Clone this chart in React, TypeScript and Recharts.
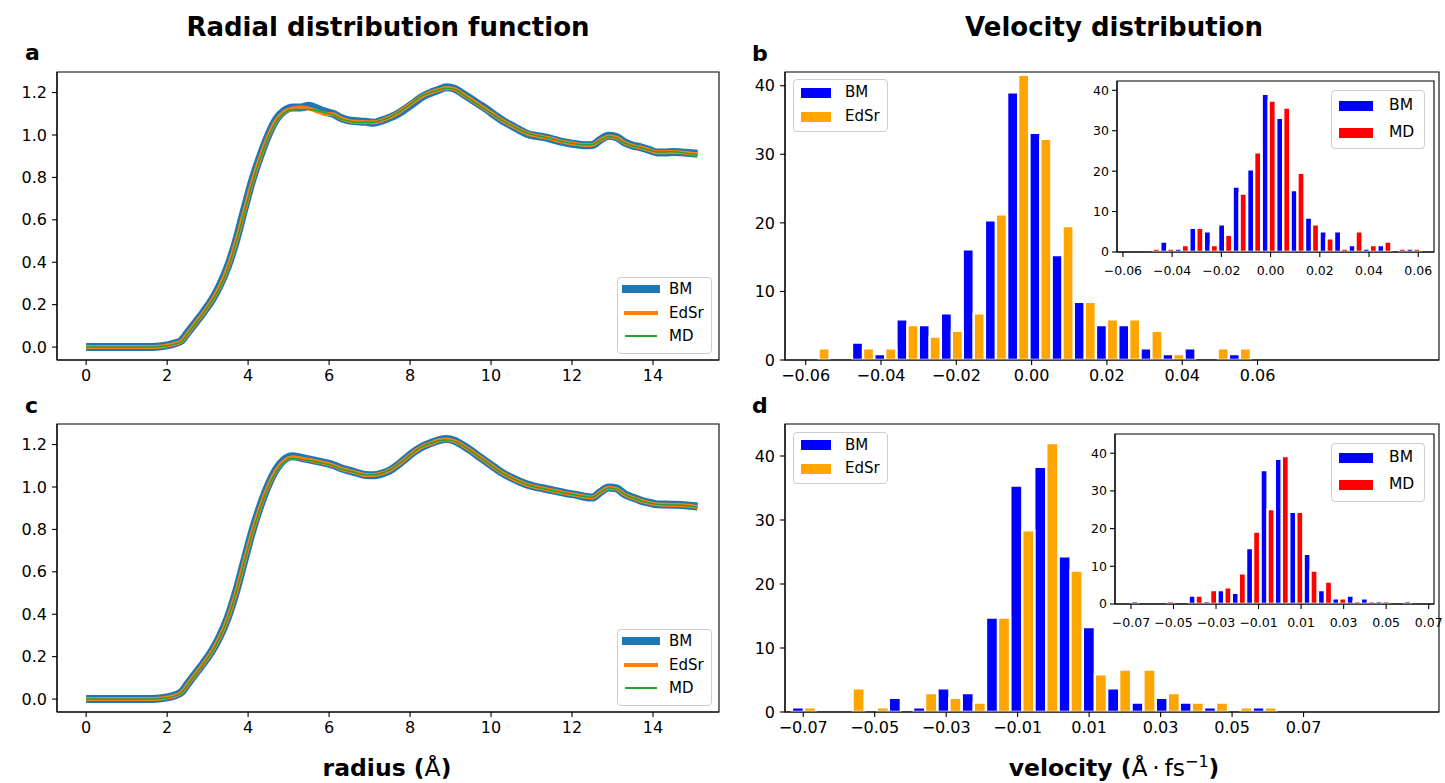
import React from 'react';
import { LineChart, Line, BarChart, Bar, XAxis, YAxis, ReferenceArea, Legend } from 'recharts';

const FONT = '"DejaVu Sans", Verdana, sans-serif';

// ---------- radial distribution function g(r) ----------
const radius = [
  0, 0.5, 1.0, 1.5, 1.8, 2.0, 2.2, 2.35, 2.5, 2.7, 2.9,
  3.1, 3.3, 3.5, 3.7, 3.9, 4.1, 4.3, 4.5, 4.7, 4.9,
  5.1, 5.3, 5.5, 5.7, 5.9, 6.1, 6.3, 6.5, 6.7, 6.9,
  7.1, 7.3, 7.5, 7.7, 7.9, 8.1, 8.3, 8.5, 8.7, 8.9,
  9.1, 9.3, 9.5, 9.7, 9.9, 10.1, 10.3, 10.5, 10.7, 10.9,
  11.1, 11.3, 11.5, 11.7, 11.9, 12.1, 12.3, 12.5, 12.7, 12.9,
  13.1, 13.3, 13.5, 13.7, 13.9, 14.1, 14.3, 14.5, 14.7, 14.9, 15.1,
];

const rdfBM_a = [
  0, 0, 0, 0, 0.003, 0.008, 0.018, 0.03, 0.066, 0.115, 0.165,
  0.22, 0.29, 0.38, 0.5, 0.645, 0.785, 0.9, 1.0, 1.075, 1.115,
  1.13, 1.13, 1.138, 1.125, 1.11, 1.1, 1.08, 1.068, 1.065, 1.062,
  1.058, 1.068, 1.082, 1.1, 1.125, 1.152, 1.18, 1.198, 1.212, 1.225,
  1.218, 1.195, 1.17, 1.145, 1.12, 1.092, 1.066, 1.045, 1.024, 1.005,
  0.996, 0.99, 0.981, 0.97, 0.962, 0.956, 0.952, 0.953, 0.978, 0.996,
  0.99, 0.965, 0.95, 0.942, 0.93, 0.918, 0.918, 0.92, 0.918, 0.915, 0.912,
];
const rdfEdSr_a = [
  0, 0, 0, 0, 0.002, 0.007, 0.016, 0.027, 0.062, 0.112, 0.162,
  0.217, 0.285, 0.375, 0.495, 0.637, 0.777, 0.895, 0.995, 1.07, 1.11,
  1.125, 1.13, 1.125, 1.112, 1.1, 1.098, 1.078, 1.066, 1.062, 1.06,
  1.06, 1.069, 1.084, 1.104, 1.13, 1.158, 1.183, 1.2, 1.212, 1.221,
  1.216, 1.192, 1.168, 1.142, 1.117, 1.091, 1.066, 1.045, 1.025, 1.007,
  0.997, 0.99, 0.982, 0.971, 0.963, 0.957, 0.953, 0.954, 0.976, 0.993,
  0.987, 0.963, 0.949, 0.941, 0.93, 0.919, 0.919, 0.92, 0.918, 0.913, 0.908,
];
const rdfMD_a = [
  0, 0, 0, 0, 0.002, 0.006, 0.015, 0.025, 0.06, 0.11, 0.16,
  0.215, 0.28, 0.37, 0.49, 0.63, 0.77, 0.89, 0.99, 1.065, 1.105,
  1.12, 1.12, 1.12, 1.115, 1.105, 1.095, 1.075, 1.065, 1.06, 1.06,
  1.06, 1.07, 1.085, 1.105, 1.13, 1.16, 1.185, 1.2, 1.212, 1.22,
  1.215, 1.19, 1.165, 1.14, 1.115, 1.09, 1.065, 1.045, 1.025, 1.008,
  0.998, 0.99, 0.982, 0.972, 0.964, 0.958, 0.954, 0.955, 0.975, 0.992,
  0.985, 0.962, 0.948, 0.94, 0.93, 0.92, 0.92, 0.921, 0.918, 0.912, 0.905,
];

const rdfBM_c = [
  0, 0, 0, 0, 0.003, 0.008, 0.018, 0.032, 0.07, 0.12, 0.17,
  0.225, 0.295, 0.385, 0.505, 0.648, 0.79, 0.91, 1.01, 1.085, 1.13,
  1.145, 1.138, 1.13, 1.122, 1.114, 1.104, 1.088, 1.077, 1.066, 1.056,
  1.055, 1.063, 1.078, 1.104, 1.136, 1.166, 1.19, 1.206, 1.22, 1.226,
  1.218, 1.197, 1.172, 1.144, 1.117, 1.09, 1.064, 1.044, 1.026, 1.011,
  1.001, 0.993, 0.985, 0.977, 0.969, 0.963, 0.954, 0.95, 0.976, 0.998,
  0.993, 0.966, 0.95, 0.936, 0.926, 0.918, 0.917, 0.916, 0.915, 0.912, 0.908,
];
const rdfEdSr_c = [
  0, 0, 0, 0, 0.002, 0.007, 0.016, 0.03, 0.067, 0.117, 0.167,
  0.222, 0.292, 0.382, 0.502, 0.644, 0.785, 0.905, 1.005, 1.08, 1.125,
  1.14, 1.134, 1.128, 1.12, 1.112, 1.102, 1.086, 1.076, 1.066, 1.057,
  1.057, 1.064, 1.079, 1.104, 1.135, 1.165, 1.19, 1.205, 1.219, 1.224,
  1.216, 1.196, 1.171, 1.143, 1.116, 1.089, 1.064, 1.043, 1.025, 1.01,
  1.0, 0.992, 0.984, 0.976, 0.968, 0.962, 0.955, 0.951, 0.975, 0.996,
  0.991, 0.965, 0.949, 0.935, 0.925, 0.918, 0.916, 0.915, 0.914, 0.911, 0.906,
];
const rdfMD_c = [
  0, 0, 0, 0, 0.002, 0.006, 0.015, 0.028, 0.065, 0.115, 0.165,
  0.22, 0.29, 0.38, 0.5, 0.64, 0.78, 0.9, 1.0, 1.075, 1.12,
  1.135, 1.13, 1.125, 1.118, 1.11, 1.1, 1.085, 1.075, 1.065, 1.058,
  1.058, 1.065, 1.08, 1.105, 1.135, 1.165, 1.19, 1.205, 1.218, 1.222,
  1.215, 1.195, 1.17, 1.142, 1.115, 1.088, 1.063, 1.043, 1.025, 1.01,
  1.0, 0.992, 0.984, 0.976, 0.968, 0.962, 0.955, 0.952, 0.975, 0.995,
  0.99, 0.965, 0.948, 0.935, 0.925, 0.918, 0.916, 0.915, 0.914, 0.91, 0.905,
];

const rdfTicksX = [0, 2, 4, 6, 8, 10, 12, 14];
const rdfTicksY = [0, 0.2, 0.4, 0.6, 0.8, 1.0, 1.2];

// ---------- velocity histograms (probability density) ----------
const velBins_b = [
  -0.0566, -0.0507, -0.0448, -0.0389, -0.033, -0.0271, -0.0212, -0.0154, -0.0095, -0.0036,
  0.0023, 0.0082, 0.0141, 0.02, 0.0259, 0.0318, 0.0376, 0.0435, 0.0494, 0.0553,
];
const velBM_b = [0, 0, 2.55, 0.85, 5.94, 5.09, 6.79, 16.13, 20.38, 39.05, 33.11, 15.28, 8.49, 5.09, 5.09, 1.7, 0.85, 1.7, 0, 0.85];
const velEdSr_b = [1.7, 0, 1.7, 1.7, 5.09, 3.4, 4.25, 6.79, 21.23, 41.6, 32.26, 19.53, 8.49, 5.94, 5.94, 4.25, 0.85, 0, 1.7, 1.7];

const velBins_bInset = [
  -0.0478, -0.0419, -0.036, -0.0301, -0.0242, -0.0184, -0.0125, -0.0066, -0.0007, 0.0052,
  0.011, 0.0169, 0.0228, 0.0287, 0.0346, 0.0404, 0.0463, 0.0522, 0.0581,
];
const velBM_bInset = [0, 2.55, 0.85, 5.96, 5.11, 6.81, 16.17, 20.43, 39.15, 33.19, 15.32, 8.51, 5.11, 5.11, 1.7, 0.85, 1.7, 0, 0.85];
const velMD_bInset = [0.85, 0.85, 1.7, 5.96, 1.7, 4.26, 14.47, 24.68, 37.45, 35.74, 19.57, 6.81, 3.4, 0.85, 5.11, 1.7, 2.55, 0.85, 0.85];

const velBins_d = [
  -0.0698, -0.063, -0.0562, -0.0494, -0.0427, -0.0359, -0.0291, -0.0223, -0.0155, -0.0087,
  -0.002, 0.0048, 0.0116, 0.0184, 0.0252, 0.032, 0.0387, 0.0455, 0.0523, 0.0591,
];
const velBM_d = [0.74, 0, 0, 0, 2.21, 0.74, 3.69, 2.95, 14.74, 35.38, 38.32, 24.32, 13.27, 3.69, 1.47, 2.21, 1.47, 0.74, 0, 0.74];
const velEdSr_d = [0.74, 0, 3.69, 0.74, 0, 2.95, 2.21, 1.47, 14.74, 28.38, 42.01, 22.11, 5.9, 6.63, 6.63, 2.95, 1.47, 1.47, 0.74, 0.74];

const velBins_dInset = [
  -0.0665, -0.0597, -0.053, -0.0462, -0.0395, -0.0327, -0.026, -0.0192, -0.0125, -0.0057,
  0.001, 0.0078, 0.0145, 0.0213, 0.028, 0.0348, 0.0415, 0.0483, 0.055, 0.0618,
];
const velBM_dInset = [0.74, 0, 0, 0, 2.22, 0.74, 3.7, 2.96, 14.8, 35.52, 38.48, 24.42, 13.32, 3.7, 1.48, 2.22, 1.48, 0.74, 0, 0.74];
const velMD_dInset = [0, 0, 0.74, 0, 2.22, 3.7, 4.44, 8.14, 19.24, 25.16, 39.22, 24.42, 8.88, 5.92, 1.48, 0.74, 0.74, 0.74, 0, 0];

const velTicks_b = [-0.06, -0.04, -0.02, 0, 0.02, 0.04, 0.06];
const velTicks_d = [-0.07, -0.05, -0.03, -0.01, 0.01, 0.03, 0.05, 0.07];
const countTicks = [0, 10, 20, 30, 40];

// ---------- colours ----------
const C_BM_LINE = '#1f77b4';
const C_EDSR_LINE = '#ff7f0e';
const C_MD_LINE = '#2ca02c';
const C_BM = '#0000ff';
const C_EDSR = '#ffa500';
const C_MD = '#ff0000';

const fmtVel = (v: number) => {
  const s = Math.abs(v).toFixed(2);
  return v < -1e-9 ? '\u2212' + s : s;
};
const fmtG = (v: number) => v.toFixed(1);

type LegendRow = { label: string; color: string; kind: 'line' | 'patch'; thickness: number };
type LegendSpec = {
  left: number; top: number; width: number; height: number;
  centers: number[]; swatchX: number; swatchW: number; textX: number; fontSize: number;
  rows: LegendRow[];
};

function LegendBox({ spec }: { spec: LegendSpec }) {
  return (
    <div
      style={{
        position: 'relative', width: spec.width, height: spec.height, boxSizing: 'border-box',
        border: '1px solid #cccccc', borderRadius: 4, background: 'rgba(255,255,255,0.8)',
        fontFamily: FONT, fontSize: spec.fontSize, color: '#000',
      }}
    >
      {spec.rows.map((row, i) => {
        const c = spec.centers[i];
        const ext = row.kind === 'line' ? row.thickness / 2 : 0;
        return (
          <React.Fragment key={row.label}>
            <div
              style={{
                position: 'absolute', left: spec.swatchX - 1 - ext, top: c - row.thickness / 2 - 1,
                width: spec.swatchW + 2 * ext, height: row.thickness, background: row.color,
              }}
            />
            <div
              style={{
                position: 'absolute', left: spec.textX - 1, top: c - spec.fontSize * 0.62 - 1,
                lineHeight: `${spec.fontSize * 1.2}px`, whiteSpace: 'nowrap',
              }}
            >
              {row.label}
            </div>
          </React.Fragment>
        );
      })}
    </div>
  );
}

const axisStroke = { stroke: '#000', strokeWidth: 1.1 };

type Series = { key: string; color: string };

function RdfPanel({ top, bm, edsr, md, legendTop }: { top: number; bm: number[]; edsr: number[]; md: number[]; legendTop: number }) {
  const rows = radius.map((r, i) => ({ r, BM: bm[i], EdSr: edsr[i], MD: md[i] }));
  const xDomain: [number, number] = [-0.72, 15.63];
  const yDomain: [number, number] = [-0.061, 1.297];
  const tickStyle = { fontSize: 16, fill: '#000', fontFamily: FONT };
  const legend: LegendSpec = {
    left: 610, top: legendTop, width: 95, height: 77,
    centers: [12, 36, 59], swatchX: 9, swatchW: 30, textX: 52, fontSize: 15,
    rows: [
      { label: 'BM', color: C_BM_LINE, kind: 'line', thickness: 8 },
      { label: 'EdSr', color: C_EDSR_LINE, kind: 'line', thickness: 4 },
      { label: 'MD', color: C_MD_LINE, kind: 'line', thickness: 1.5 },
    ],
  };
  return (
    <div style={{ position: 'absolute', left: 7, top }}>
      <LineChart width={714} height={324} data={rows} margin={{ top: 2, right: 2, bottom: 0, left: 0 }}>
        <XAxis
          type="number" dataKey="r" domain={xDomain} ticks={rdfTicksX} allowDataOverflow
          height={34} tickSize={5} tickMargin={5} tick={tickStyle} axisLine={axisStroke} tickLine={axisStroke}
        />
        <YAxis
          type="number" domain={yDomain} ticks={rdfTicksY} allowDataOverflow tickFormatter={fmtG}
          width={50} tickSize={5} tickMargin={5} tick={tickStyle} axisLine={axisStroke} tickLine={axisStroke}
        />
        <Line type="monotone" dataKey="BM" stroke={C_BM_LINE} strokeWidth={8} dot={false} activeDot={false} isAnimationActive={false} />
        <Line type="monotone" dataKey="EdSr" stroke={C_EDSR_LINE} strokeWidth={4} dot={false} activeDot={false} isAnimationActive={false} />
        <Line type="monotone" dataKey="MD" stroke={C_MD_LINE} strokeWidth={1.5} dot={false} activeDot={false} isAnimationActive={false} />
        <ReferenceArea
          x1={xDomain[0]} x2={xDomain[1]} y1={yDomain[0]} y2={yDomain[1]}
          fill="none" fillOpacity={0} stroke="#000" strokeWidth={1.1} ifOverflow="visible"
        />
        <Legend
          layout="vertical" align="center" verticalAlign="middle"
          wrapperStyle={{ left: legend.left, top: legend.top, width: legend.width, height: legend.height }}
          content={() => <LegendBox spec={legend} />}
        />
      </LineChart>
    </div>
  );
}

type HistProps = {
  left: number; top: number; width: number; height: number; rightPad: number;
  yAxisWidth: number; xAxisHeight: number;
  bins: number[]; values: number[][]; series: Series[];
  xDomain: [number, number]; yDomain: [number, number]; xTicks: number[];
  fontSize: number; tickSize: number; tickMargin: number; yTickMargin: number;
  legend: LegendSpec; whiteBackground?: boolean;
};

function HistPanel(p: HistProps) {
  const rows = p.bins.map((v, i) => {
    const row: Record<string, number> = { v };
    p.series.forEach((s, k) => { row[s.key] = p.values[k][i]; });
    return row;
  });
  const tickStyle = { fontSize: p.fontSize, fill: '#000', fontFamily: FONT };
  return (
    <div style={{ position: 'absolute', left: p.left, top: p.top }}>
      <BarChart
        width={p.width} height={p.height} data={rows}
        margin={{ top: 2, right: p.rightPad, bottom: 0, left: 0 }}
        barCategoryGap={0} barGap={0}
      >
        <XAxis
          type="number" dataKey="v" domain={p.xDomain} ticks={p.xTicks} allowDataOverflow tickFormatter={fmtVel}
          height={p.xAxisHeight} tickSize={p.tickSize} tickMargin={p.tickMargin} tick={tickStyle}
          axisLine={axisStroke} tickLine={axisStroke} interval={0}
        />
        <YAxis
          type="number" domain={p.yDomain} ticks={countTicks} allowDataOverflow
          width={p.yAxisWidth} tickSize={p.tickSize} tickMargin={p.yTickMargin} tick={tickStyle}
          axisLine={axisStroke} tickLine={axisStroke}
        />
        {p.whiteBackground && (
          <ReferenceArea
            x1={p.xDomain[0]} x2={p.xDomain[1]} y1={p.yDomain[0]} y2={p.yDomain[1]}
            fill="#ffffff" fillOpacity={1} stroke="none" ifOverflow="visible"
          />
        )}
        {p.series.map((s) => (
          <Bar key={s.key} dataKey={s.key} fill={s.color} stroke="#ffffff" strokeWidth={2.3} isAnimationActive={false} />
        ))}
        <ReferenceArea
          x1={p.xDomain[0]} x2={p.xDomain[1]} y1={p.yDomain[0]} y2={p.yDomain[1]}
          fill="none" fillOpacity={0} stroke="#000" strokeWidth={1.1} ifOverflow="visible"
        />
        <Legend
          layout="vertical" align="center" verticalAlign="middle"
          wrapperStyle={{ left: p.legend.left, top: p.legend.top, width: p.legend.width, height: p.legend.height }}
          content={() => <LegendBox spec={p.legend} />}
        />
      </BarChart>
    </div>
  );
}

const mainBarLegend = (top: number, height: number, centers: number[]): LegendSpec => ({
  left: 58, top, width: 95, height, centers, swatchX: 8, swatchW: 30, textX: 52, fontSize: 15,
  rows: [
    { label: 'BM', color: C_BM, kind: 'patch', thickness: 10 },
    { label: 'EdSr', color: C_EDSR, kind: 'patch', thickness: 10 },
  ],
});

const insetLegend = (left: number, centers: number[]): LegendSpec => ({
  left, top: 11, width: 94, height: 59, centers, swatchX: 8, swatchW: 34, textX: 58, fontSize: 15.5,
  rows: [
    { label: 'BM', color: C_BM, kind: 'patch', thickness: 10 },
    { label: 'MD', color: C_MD, kind: 'patch', thickness: 10 },
  ],
});

function Annotations() {
  const bold = { fontFamily: FONT, fontWeight: 700, fill: '#000' } as const;
  return (
    <svg width={1445} height={783} style={{ position: 'absolute', left: 0, top: 0, pointerEvents: 'none' }}>
      <text x={388} y={36} textAnchor="middle" fontSize={26} {...bold}>Radial distribution function</text>
      <text x={1114} y={36} textAnchor="middle" fontSize={26} {...bold}>Velocity distribution</text>
      <text x={25} y={60} fontSize={22} {...bold}>a</text>
      <text x={752} y={61} fontSize={22} {...bold}>b</text>
      <text x={25} y={413} fontSize={22} {...bold}>c</text>
      <text x={752} y={413} fontSize={22} {...bold}>d</text>
      <text x={387} y={776} textAnchor="middle" fontSize={23.5} {...bold}>
        radius (<tspan fontWeight={400}>Å</tspan>)
      </text>
      <text x={1114} y={776} textAnchor="middle" fontSize={23.5} {...bold}>
        velocity (<tspan fontWeight={400}>{'Å\u2009·\u2009fs'}</tspan>
        <tspan dy={-9} fontSize={16} fontWeight={400}>{'\u22121'}</tspan>
        <tspan dy={9}>)</tspan>
      </text>
    </svg>
  );
}

export default function App() {
  return (
    <div
      style={{
        position: 'absolute', left: 0, top: 0, width: 1445, height: 783,
        background: '#ffffff', fontFamily: FONT, overflow: 'hidden',
      }}
    >
      <RdfPanel top={70} bm={rdfBM_a} edsr={rdfEdSr_a} md={rdfMD_a} legendTop={207} />
      <RdfPanel top={422} bm={rdfBM_c} edsr={rdfEdSr_c} md={rdfMD_c} legendTop={207} />

      <HistPanel
        left={735} top={70} width={708} height={324} rightPad={4} yAxisWidth={50} xAxisHeight={34}
        bins={velBins_b} values={[velBM_b, velEdSr_b]}
        series={[{ key: 'BM', color: C_BM }, { key: 'EdSr', color: C_EDSR }]}
        xDomain={[-0.0655, 0.1082]} yDomain={[0, 42]} xTicks={velTicks_b}
        fontSize={16} tickSize={5} tickMargin={5} yTickMargin={5}
        legend={mainBarLegend(9, 53, [13.5, 37.5])}
      />
      <HistPanel
        left={1087} top={79} width={358} height={205} rightPad={11} yAxisWidth={30} xAxisHeight={32}
        bins={velBins_bInset} values={[velBM_bInset, velMD_bInset]}
        series={[{ key: 'BM', color: C_BM }, { key: 'MD', color: C_MD }]}
        xDomain={[-0.0624, 0.0664]} yDomain={[0, 42.3]} xTicks={velTicks_b}
        fontSize={12.5} tickSize={5} tickMargin={9} yTickMargin={3} whiteBackground
        legend={insetLegend(244, [16, 43])}
      />

      <HistPanel
        left={735} top={422} width={708} height={324} rightPad={4} yAxisWidth={50} xAxisHeight={34}
        bins={velBins_d} values={[velBM_d, velEdSr_d]}
        series={[{ key: 'BM', color: C_BM }, { key: 'EdSr', color: C_EDSR }]}
        xDomain={[-0.0751, 0.1079]} yDomain={[0, 45]} xTicks={velTicks_d}
        fontSize={16} tickSize={5} tickMargin={5} yTickMargin={5}
        legend={mainBarLegend(10, 52, [13.3, 36.7])}
      />
      <HistPanel
        left={1085} top={432} width={360} height={204} rightPad={11} yAxisWidth={30} xAxisHeight={32}
        bins={velBins_dInset} values={[velBM_dInset, velMD_dInset]}
        series={[{ key: 'BM', color: C_BM }, { key: 'MD', color: C_MD }]}
        xDomain={[-0.0775, 0.0725]} yDomain={[0, 45.1]} xTicks={velTicks_d}
        fontSize={12.5} tickSize={5} tickMargin={9} yTickMargin={3} whiteBackground
        legend={insetLegend(246, [15, 41.5])}
      />

      <Annotations />
    </div>
  );
}
